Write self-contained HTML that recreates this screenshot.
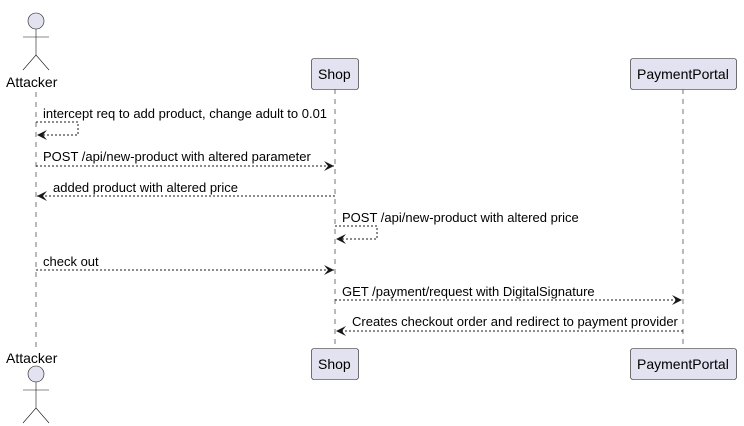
<!DOCTYPE html>
<html><head><meta charset="utf-8"><style>body{margin:0;background:#fff}svg{display:block}</style></head><body>
<svg width="744" height="426" xmlns="http://www.w3.org/2000/svg" font-family="Liberation Sans, sans-serif">
<defs><marker id="a" markerWidth="12" markerHeight="10" refX="10" refY="5" orient="auto" markerUnits="userSpaceOnUse"><path d="M0,0 L10,5 L0,10 L4,5 Z" fill="#181818"/></marker></defs>
<g stroke="#181818" stroke-width="1" stroke-dasharray="5,5" opacity="0.6">
<line x1="36" y1="92" x2="36" y2="350"/>
<line x1="335" y1="89" x2="335" y2="348"/>
<line x1="683" y1="89" x2="683" y2="348"/>
</g>
<g fill="#E2E2F0" stroke="#181818" stroke-width="0.6">
<circle cx="36" cy="21" r="8"/>
<circle cx="36" cy="374" r="8"/>
</g>
<g stroke="#181818" stroke-width="0.6" fill="none">
<path d="M36,29 V55 M23,37 H49 M23,70 L36,55 L49,70"/>
<path d="M36,382 V408 M23,390 H49 M23,423 L36,408 L49,423"/>
</g>
<g fill="#E2E2F0" stroke="#181818" stroke-width="0.6">
<rect x="311.5" y="58.5" width="47" height="31" rx="2.5"/>
<rect x="630.5" y="58.5" width="106" height="31" rx="2.5"/>
<rect x="311.5" y="348.5" width="47" height="31" rx="2.5"/>
<rect x="630.5" y="348.5" width="106" height="31" rx="2.5"/>
</g>
<g font-size="14" fill="#000">
<text x="6" y="87">Attacker</text>
<text x="6" y="363">Attacker</text>
<text x="318" y="79">Shop</text>
<text x="318" y="369">Shop</text>
<text x="637" y="79">PaymentPortal</text>
<text x="637" y="369">PaymentPortal</text>
</g>
<g stroke="#181818" stroke-width="1" stroke-dasharray="2,2" fill="none" marker-end="url(#a)">
<path d="M36,122 H78 V135 H37"/>
<line x1="36" y1="166" x2="334" y2="166"/>
<line x1="335" y1="196" x2="37" y2="196"/>
<path d="M335,226 H377 V239 H336"/>
<line x1="36" y1="270" x2="334" y2="270"/>
<line x1="335" y1="300" x2="682" y2="300"/>
<line x1="683" y1="331" x2="336" y2="331"/>
</g>
<g font-size="13" fill="#000">
<text x="43" y="118">intercept req to add product, change adult to 0.01</text>
<text x="43" y="161">POST /api/new-product with altered parameter</text>
<text x="53" y="192">added product with altered price</text>
<text x="342" y="222">POST /api/new-product with altered price</text>
<text x="43" y="266">check out</text>
<text x="342" y="296">GET /payment/request with DigitalSignature</text>
<text x="352" y="326">Creates checkout order and redirect to payment provider</text>
</g>
</svg>
</body></html>
